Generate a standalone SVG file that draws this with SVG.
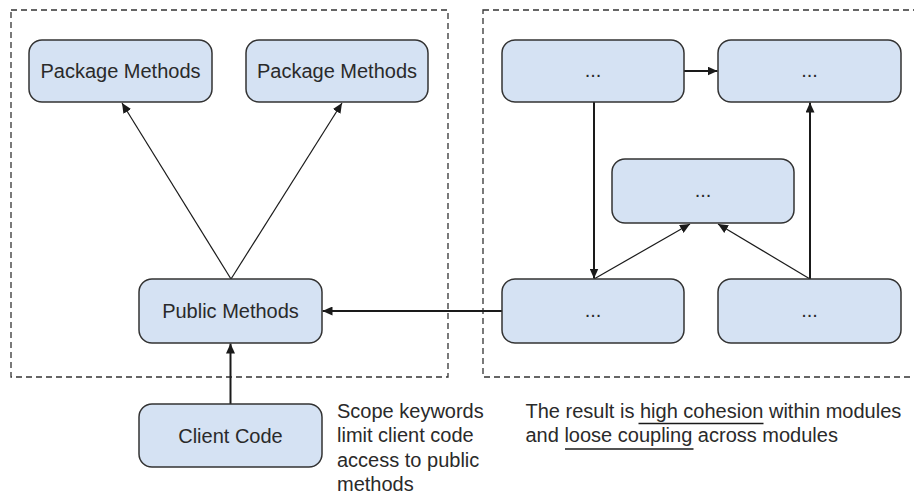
<svg xmlns="http://www.w3.org/2000/svg" width="914" height="494" viewBox="0 0 914 494">
  <style>
    .box { fill: #d5e2f3; stroke: #333333; stroke-width: 1.5; }
    .lbl { font-family: "Liberation Sans", Arial, sans-serif; font-size: 20px; fill: #2a2a2a; text-anchor: middle; }
    .note { font-family: "Liberation Sans", Arial, sans-serif; font-size: 20px; fill: #2a2a2a; }
    .frame { fill: none; stroke: #333333; stroke-width: 1.3; stroke-dasharray: 6 4; }
    .thick { stroke: #1a1a1a; stroke-width: 2; fill: none; }
    .thin { stroke: #1a1a1a; stroke-width: 1.2; fill: none; }
    .ul { stroke: #1a1a1a; stroke-width: 1.6; }
  </style>
  <defs>
    <marker id="arr" markerUnits="userSpaceOnUse" markerWidth="10" markerHeight="9" refX="10" refY="4.5" orient="auto">
      <path d="M0,0 L10,4.5 L0,9 z" fill="#1a1a1a"/>
    </marker>
  </defs>
  <rect width="914" height="494" fill="#ffffff"/>

  <g id="frames">
    <rect class="frame" x="11" y="10" width="437" height="367"/>
    <rect class="frame" x="483" y="10" width="450" height="367"/>
  </g>

  <g id="connectors">
    <line class="thin" x1="231" y1="279" x2="122" y2="103" marker-end="url(#arr)"/>
    <line class="thin" x1="231" y1="279" x2="342" y2="103" marker-end="url(#arr)"/>
    <line class="thick" x1="230.5" y1="404" x2="230.5" y2="343.5" marker-end="url(#arr)"/>
    <line class="thick" x1="502" y1="311" x2="322.5" y2="311" marker-end="url(#arr)"/>
    <line class="thick" x1="684" y1="71" x2="717.5" y2="71" marker-end="url(#arr)"/>
    <line class="thick" x1="594" y1="102" x2="594" y2="278.5" marker-end="url(#arr)"/>
    <line class="thick" x1="810" y1="279" x2="810" y2="102.5" marker-end="url(#arr)"/>
    <line class="thin" x1="594" y1="279" x2="690" y2="224" marker-end="url(#arr)"/>
    <line class="thin" x1="810" y1="279" x2="718" y2="224" marker-end="url(#arr)"/>
  </g>

  <g id="pkg1"><rect class="box" x="29" y="40" width="183" height="62" rx="13"/><text class="lbl" x="120.5" y="78">Package Methods</text></g>
  <g id="pkg2"><rect class="box" x="246" y="40" width="182" height="62" rx="13"/><text class="lbl" x="337" y="78">Package Methods</text></g>
  <g id="public"><rect class="box" x="139" y="279" width="183" height="64" rx="13"/><text class="lbl" x="230.5" y="318">Public Methods</text></g>
  <g id="client"><rect class="box" x="139" y="404" width="183" height="63" rx="13"/><text class="lbl" x="230.5" y="443">Client Code</text></g>
  <g id="m1"><rect class="box" x="502" y="40" width="182" height="62" rx="13"/><text class="lbl" x="593" y="77">...</text></g>
  <g id="m2"><rect class="box" x="718" y="40" width="183" height="62" rx="13"/><text class="lbl" x="809.5" y="77">...</text></g>
  <g id="m3"><rect class="box" x="612" y="159" width="182" height="64" rx="13"/><text class="lbl" x="703" y="197">...</text></g>
  <g id="m4"><rect class="box" x="502" y="279" width="182" height="64" rx="13"/><text class="lbl" x="593" y="317">...</text></g>
  <g id="m5"><rect class="box" x="718" y="279" width="183" height="64" rx="13"/><text class="lbl" x="809.5" y="317">...</text></g>

  <g id="note-scope">
    <text class="note" x="337" y="417.5">Scope keywords</text>
    <text class="note" x="337" y="442">limit client code</text>
    <text class="note" x="337" y="466.5">access to public</text>
    <text class="note" x="337" y="491">methods</text>
  </g>
  <g id="note-result">
    <text class="note" x="525.5" y="417.5">The result is high cohesion within modules</text>
    <text class="note" x="525.5" y="442">and loose coupling across modules</text>
    <line class="ul" x1="638.5" y1="423.5" x2="763.5" y2="423.5"/>
    <line class="ul" x1="565" y1="449" x2="693.5" y2="449"/>
  </g>
</svg>
